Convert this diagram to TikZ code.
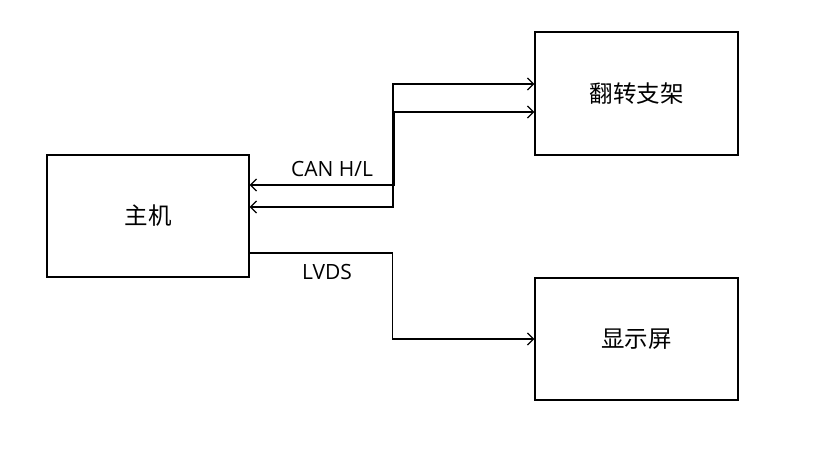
\documentclass[tikz,border=0pt]{standalone}
\usepackage{fontspec}
\setmainfont{Open Sans}
\newfontfamily\cjk{Noto Sans CJK SC}
\usetikzlibrary{arrows.meta}
\begin{document}
\begin{tikzpicture}[x=1pt,y=-1pt,
  blk/.style={draw=black,line width=1.3pt,fill=white,inner sep=0pt,
    font=\cjk\fontsize{23.5}{28}\selectfont},
  conn/.style={line width=1.3pt,draw=black,
    arrows={Straight Barb[length=6pt,width=12pt,line width=1.3pt]-Straight Barb[length=6pt,width=12pt,line width=1.3pt]}},
  oneway/.style={line width=1.3pt,draw=black,
    -{Straight Barb[length=6pt,width=12pt,line width=1.3pt]}},
  lbl/.style={font=\fontsize{21}{25}\selectfont,inner sep=0pt}
]
\useasboundingbox[fill=white] (0,0) rectangle (826,460);
\node[blk,minimum width=202pt,minimum height=122pt] (main) at (148,216) {主机};
\node[blk,minimum width=203pt,minimum height=123pt] (flip) at (636.5,93.5) {翻转支架};
\node[blk,minimum width=203pt,minimum height=122pt] (disp) at (636.5,339) {显示屏};

\draw[conn] ([yshift=31pt]main.east) -- ++(144.6,0) |- ([yshift=-18.5pt]flip.west);
\draw[conn] ([yshift=9pt]main.east) -- ++(143.4,0) |- ([yshift=9.5pt]flip.west);
\draw[oneway] ([yshift=-37pt]main.east) -- ++(142.5,0) |- (disp.west);

\node[lbl] (can) at (332,169) {CAN H/L};
\node[lbl] (lvds) at (327,272) {LVDS};
\end{tikzpicture}
\end{document}
